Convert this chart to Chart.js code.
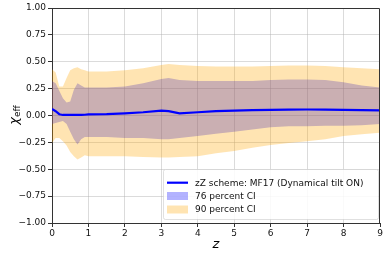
<!DOCTYPE html>
<html>
<head>
<meta charset="utf-8">
<script src="https://cdn.jsdelivr.net/npm/chart.js@4"></script>
<style>
  body { margin: 0; background: #fff; }
  canvas { display: block; }
</style>
</head>
<body>
<canvas id="chiChart" width="389" height="257"></canvas>
<script>
// Values
const zVals      = [0, 0.1, 0.2, 0.3, 0.4, 0.5, 0.6, 0.7, 0.8, 0.9, 1.0, 1.5, 2.0, 2.5, 3.0, 3.2, 3.5, 4.0, 4.5, 5.0, 5.5, 6.0, 6.5, 7.0, 7.5, 8.0, 8.5, 9.0];
const medianVals = [0.06, 0.04, 0.012, 0.005, 0.005, 0.005, 0.005, 0.005, 0.006, 0.007, 0.01, 0.013, 0.02, 0.03, 0.045, 0.04, 0.02, 0.03, 0.04, 0.045, 0.05, 0.053, 0.055, 0.056, 0.055, 0.053, 0.05, 0.047];
const ci76Upper  = [0.32, 0.30, 0.23, 0.16, 0.12, 0.13, 0.24, 0.30, 0.28, 0.26, 0.26, 0.26, 0.27, 0.30, 0.34, 0.35, 0.33, 0.32, 0.32, 0.32, 0.32, 0.33, 0.335, 0.335, 0.33, 0.31, 0.28, 0.26];
const ci76Lower  = [-0.08, -0.07, -0.06, -0.05, -0.08, -0.15, -0.22, -0.27, -0.22, -0.20, -0.20, -0.20, -0.21, -0.21, -0.22, -0.22, -0.21, -0.19, -0.17, -0.15, -0.13, -0.11, -0.10, -0.10, -0.095, -0.095, -0.09, -0.08];
const ci90Upper  = [0.43, 0.40, 0.27, 0.27, 0.35, 0.42, 0.44, 0.45, 0.43, 0.42, 0.41, 0.41, 0.42, 0.44, 0.47, 0.48, 0.47, 0.46, 0.455, 0.455, 0.455, 0.46, 0.465, 0.465, 0.46, 0.45, 0.44, 0.43];
const ci90Lower  = [-0.255, -0.21, -0.21, -0.24, -0.28, -0.34, -0.38, -0.41, -0.39, -0.37, -0.38, -0.38, -0.38, -0.385, -0.39, -0.39, -0.385, -0.38, -0.35, -0.33, -0.30, -0.275, -0.255, -0.24, -0.22, -0.19, -0.175, -0.16];
const legendLabels = ['zZ scheme: MF17 (Dynamical tilt ON)', '76 percent CI', '90 percent CI'];

const BLUE_BAND = 'rgba(0,0,255,0.3)';
const ORANGE_BAND = 'rgba(255,165,0,0.3)';
const GRID = 'rgba(176,176,176,0.45)';
const FONT = "'DejaVu Sans', sans-serif";

function pts(ys) {
    return zVals.map((z, i) => ({ x: z, y: ys[i] }));
}

function fmtTick(v) {
    const s = Math.abs(v).toFixed(2);
    return v < 0 ? '\u2212' + s : s;
}

// No grid line on top of the spines
function gridColor(c) {
    const t = c.tick ? c.tick.value : null;
    const s = c.scale;
    return (t === s.min || t === s.max) ? 'rgba(0,0,0,0)' : GRID;
}

// Top and right spines (left and bottom come from the axis borders)
const framePlugin = {
    id: 'frame',
    afterDatasetsDraw(chart) {
        const { ctx, chartArea: a } = chart;
        const top = Math.round(a.top) + 0.5;
        const right = Math.round(a.right) - 0.5;
        ctx.save();
        ctx.strokeStyle = '#333';
        ctx.lineWidth = 1;
        ctx.beginPath();
        ctx.moveTo(a.left, top);
        ctx.lineTo(right, top);
        ctx.lineTo(right, a.bottom);
        ctx.stroke();
        ctx.restore();
    }
};

// Axis titles and the legend box inside the plot
const labelsPlugin = {
    id: 'labels',
    afterDraw(chart) {
        const { ctx, chartArea: a } = chart;
        ctx.save();
        ctx.fillStyle = '#000';

        // x title
        ctx.font = 'italic 13px ' + FONT;
        ctx.textAlign = 'center';
        ctx.textBaseline = 'middle';
        ctx.fillText('z', (a.left + a.right) / 2, 245);

        // y title: chi with "eff" subscript, rotated
        ctx.translate(17, 115);
        ctx.rotate(-Math.PI / 2);
        ctx.textAlign = 'left';
        ctx.textBaseline = 'alphabetic';
        ctx.font = 'italic 13px ' + FONT;
        const chiW = ctx.measureText('\u03c7').width;
        ctx.font = '9px ' + FONT;
        const effW = ctx.measureText('eff').width;
        const start = -(chiW + effW) / 2;
        ctx.font = 'italic 13px ' + FONT;
        ctx.fillText('\u03c7', start, 1);
        ctx.font = '9px ' + FONT;
        ctx.fillText('eff', start + chiW, 3);
        ctx.restore();

        // legend
        ctx.save();
        const lx = 163, ly = 169, lw = 215, lh = 50;
        ctx.fillStyle = 'rgba(255,255,255,0.85)';
        ctx.strokeStyle = 'rgba(204,204,204,0.6)';
        ctx.lineWidth = 1;
        ctx.beginPath();
        ctx.roundRect(lx + 0.5, ly + 0.5, lw, lh, 2);
        ctx.fill();
        ctx.stroke();

        const rows = [182.7, 196, 209.5];
        ctx.strokeStyle = '#0000ff';
        ctx.lineWidth = 2.2;
        ctx.beginPath();
        ctx.moveTo(167, rows[0]);
        ctx.lineTo(188, rows[0]);
        ctx.stroke();
        ctx.fillStyle = BLUE_BAND;
        ctx.fillRect(167, rows[1] - 4, 21, 8);
        ctx.fillStyle = ORANGE_BAND;
        ctx.fillRect(167, rows[2] - 4, 21, 8);

        ctx.fillStyle = '#111';
        ctx.font = '9px ' + FONT;
        ctx.textAlign = 'left';
        ctx.textBaseline = 'middle';
        legendLabels.forEach((t, i) => ctx.fillText(t, 195, rows[i] + 0.5));
        ctx.restore();
    }
};

const ctx = document.getElementById('chiChart').getContext('2d');
new Chart(ctx, {
    type: 'line',
    data: {
        datasets: [
            { data: pts(ci76Lower), borderWidth: 0, pointRadius: 0, fill: false, order: 5 },
            { data: pts(ci76Upper), borderWidth: 0, pointRadius: 0, fill: '-1', backgroundColor: BLUE_BAND, order: 4 },
            { data: pts(ci90Lower), borderWidth: 0, pointRadius: 0, fill: false, order: 3 },
            { data: pts(ci90Upper), borderWidth: 0, pointRadius: 0, fill: '-1', backgroundColor: ORANGE_BAND, order: 2 },
            { data: pts(medianVals), borderColor: '#0000ff', borderWidth: 2.2, pointRadius: 0, fill: false, order: 0 }
        ]
    },
    options: {
        responsive: false,
        animation: false,
        layout: { padding: { top: 8, right: 9, left: 0, bottom: 0 } },
        plugins: { legend: { display: false }, tooltip: { enabled: false } },
        scales: {
            x: {
                type: 'linear',
                min: 0,
                max: 9,
                afterFit: s => { s.height = 34; },
                ticks: { stepSize: 1, color: '#111', font: { family: FONT, size: 9 }, padding: 1, maxRotation: 0 },
                grid: { color: gridColor, tickColor: '#333', tickLength: 4 },
                border: { color: '#333' }
            },
            y: {
                min: -1,
                max: 1,
                afterFit: s => { s.width = 52; },
                ticks: { stepSize: 0.25, color: '#111', font: { family: FONT, size: 9 }, padding: 2, callback: fmtTick },
                grid: { color: gridColor, tickColor: '#333', tickLength: 4 },
                border: { color: '#333' }
            }
        }
    },
    plugins: [framePlugin, labelsPlugin]
});
</script>
</body>
</html>
